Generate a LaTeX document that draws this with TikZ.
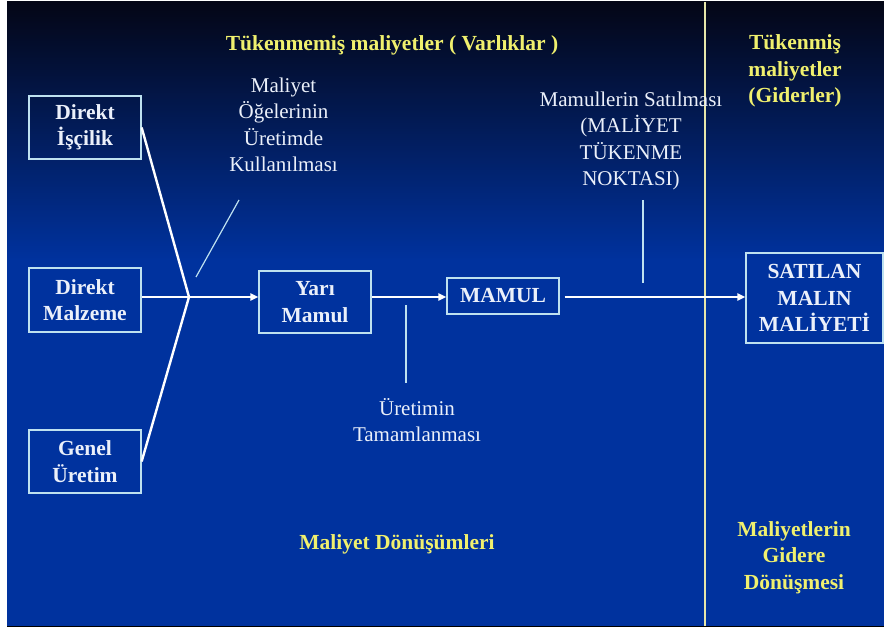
\documentclass[tikz,border=0pt]{standalone}
\usepackage{fontspec}
\setmainfont{Liberation Serif}
\usetikzlibrary{arrows.meta}
\definecolor{bgblue}{RGB}{0,50,158}
\definecolor{bgtop}{RGB}{4,6,22}
\definecolor{ylw}{RGB}{240,240,110}
\definecolor{boxline}{RGB}{190,225,240}
\definecolor{txtw}{RGB}{235,240,250}
\definecolor{divline}{RGB}{230,230,170}
\definecolor{baseline}{RGB}{120,200,240}
\begin{document}
\begin{tikzpicture}[x=1pt,y=-1pt,
 box/.style={draw=boxline,line width=1.3pt,text=txtw,font=\bfseries\fontsize{21.5}{26.5}\selectfont,align=center,inner sep=0pt},
 conn/.style={draw=white,line width=2.4pt},
 arr/.style={conn,-{Triangle[length=8pt,width=7pt]}},
 tick/.style={draw=boxline,line width=1.2pt},
 lbl/.style={text=txtw,font=\fontsize{21}{26.5}\selectfont,align=center,inner sep=0pt},
 ttl/.style={text=ylw,font=\bfseries\fontsize{21.5}{26.5}\selectfont,align=center,inner sep=0pt}]
\useasboundingbox (0,0) rectangle (884,631);
\fill[white] (0,0) rectangle (884,631);
\shade[top color=bgtop,bottom color=bgblue] (7,2) rectangle (884,260);
\fill[bgblue] (7,259) rectangle (884,626);
\draw[baseline,line width=1.2pt] (7,626.5) -- (884,626.5);
% divider
\coordinate (dtop) at (705,2);
\coordinate (dbot) at (705,626);
\draw[divline,line width=1.1pt] (dtop) -- (dbot);
% boxes
\node[box,minimum width=112pt,minimum height=63pt] (isc) at (85,127.5) {Direkt\\İşçilik};
\node[box,minimum width=112pt,minimum height=64pt] (malz) at (85,300) {Direkt\\Malzeme};
\node[box,minimum width=112pt,minimum height=63pt] (genel) at (85,461.5) {Genel\\Üretim};
\node[box,minimum width=112pt,minimum height=62pt] (yari) at (315,302) {Yarı\\Mamul};
\node[box,minimum width=112pt,minimum height=36pt] (mamul) at (503,296) {MAMUL};
\node[box,minimum width=137pt,minimum height=90pt] (sat) at (814.5,298) {SATILAN\\MALIN\\MALİYETİ};
% connectors
\coordinate (j) at (189,297);
\draw[conn] (isc.east) -- (j);
\draw[conn] (genel.east) -- (j);
\draw[arr] (malz.east |- j) -- (yari.west |- j);
\draw[arr] (yari.east |- j) -- (mamul.west |- j);
\draw[arr] ([xshift=5pt]mamul.east |- j) -- (sat.west |- j);
% ticks
\coordinate (d1) at (196,277);
\coordinate (d2) at (239,200);
\draw[tick] (d1) -- (d2);
\coordinate (t1a) at (406,305);
\coordinate (t1b) at (406,383);
\draw[tick] (t1a) -- (t1b);
\coordinate (t2a) at (643,200);
\coordinate (t2b) at (643,283);
\draw[tick] (t2a) -- (t2b);
% labels
\node[ttl] (tt1) at (392,45) {Tükenmemiş maliyetler ( Varlıklar )};
\node[ttl] (tt2) at (795,71) {Tükenmiş\\maliyetler\\(Giderler)};
\node[lbl] (l1) at (283.5,125) {Maliyet\\Öğelerinin\\Üretimde\\Kullanılması};
\node[lbl] (l2) at (631,141) {Mamullerin Satılması\\(MALİYET\\TÜKENME\\NOKTASI)};
\node[lbl] (l3) at (417,420) {Üretimin\\Tamamlanması};
\node[ttl] (b1) at (397,544) {Maliyet Dönüşümleri};
\node[ttl] (b2) at (794,557.5) {Maliyetlerin\\Gidere\\Dönüşmesi};
\end{tikzpicture}
\end{document}
